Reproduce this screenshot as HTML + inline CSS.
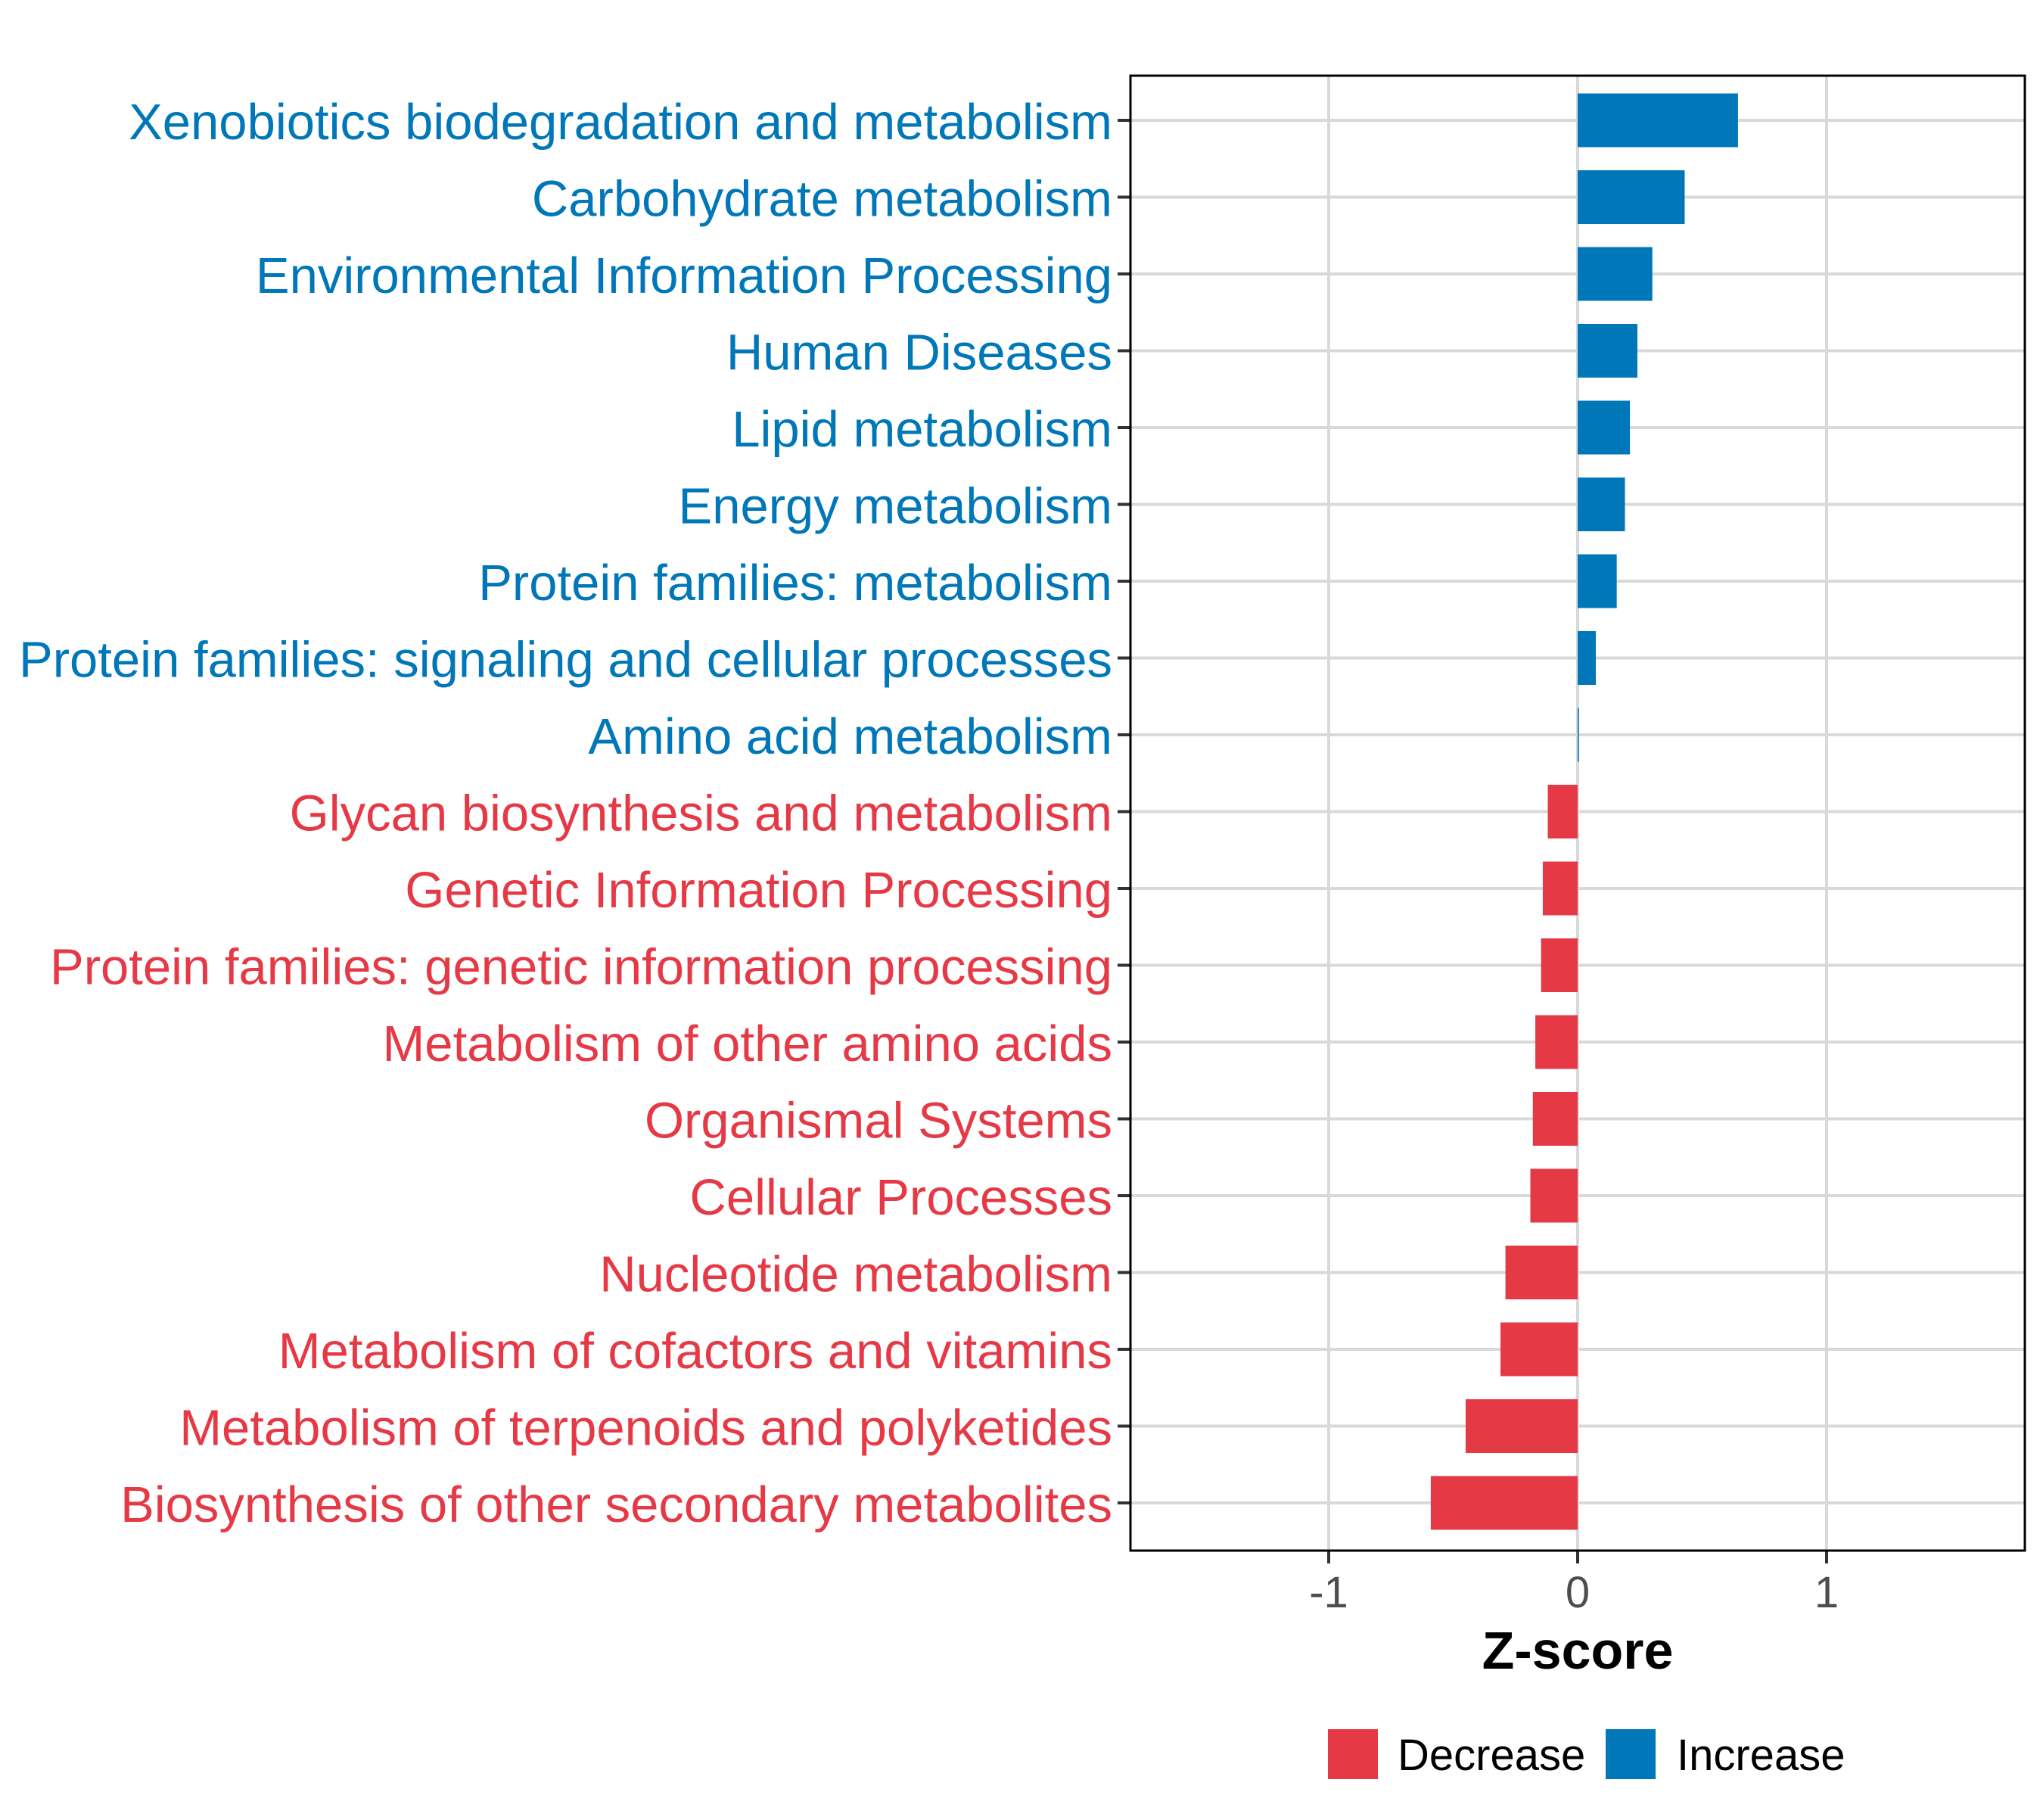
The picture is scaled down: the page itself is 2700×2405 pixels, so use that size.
<!DOCTYPE html>
<html><head><meta charset="utf-8"><style>
html,body{margin:0;padding:0;background:#fff;}
svg text{font-family:"Liberation Sans",Arial,sans-serif;}
</style></head><body>
<svg id="chart" width="2700" height="2400" viewBox="0 0 2700 2400" xmlns="http://www.w3.org/2000/svg">
<rect x="0" y="0" width="2700" height="2400" fill="#fff"/>
<g id="grid"></g>
<g id="bars"></g>
<g id="labels"></g>
<g id="xaxis"></g>
<rect x="1494" y="100" width="1182" height="1949" fill="none" stroke="#000" stroke-width="3"/>
<text x="2085" y="2205" font-size="70" font-weight="bold" text-anchor="middle" fill="#000">Z-score</text>
<g>
<rect x="1755" y="2285" width="66" height="66" fill="#E63946"/>
<text x="1847" y="2339" font-size="58" fill="#000">Decrease</text>
<rect x="2122" y="2285" width="66" height="66" fill="#0077B8"/>
<text x="2216" y="2339" font-size="58" fill="#000">Increase</text>
</g>
</svg>
<script>
const categories = ["Xenobiotics biodegradation and metabolism","Carbohydrate metabolism","Environmental Information Processing","Human Diseases","Lipid metabolism","Energy metabolism","Protein families: metabolism","Protein families: signaling and cellular processes","Amino acid metabolism","Glycan biosynthesis and metabolism","Genetic Information Processing","Protein families: genetic information processing","Metabolism of other amino acids","Organismal Systems","Cellular Processes","Nucleotide metabolism","Metabolism of cofactors and vitamins","Metabolism of terpenoids and polyketides","Biosynthesis of other secondary metabolites"];
const zscores = [0.644,0.43,0.30,0.24,0.21,0.19,0.157,0.073,0.005,-0.12,-0.14,-0.147,-0.17,-0.18,-0.19,-0.29,-0.31,-0.45,-0.59];
const xTicks = [-1,0,1];
const xTickLabels = ["-1","0","1"];
const NS="http://www.w3.org/2000/svg";
const panelL=1494, panelR=2676, panelB=2049;
function xs(v){return 2085+v*329;}
const rowTop=159, rowStep=101.5;
function ys(i){return rowTop+i*rowStep;}
const barH=71;
function mk(tag,attrs,parent){const e=document.createElementNS(NS,tag);for(const k in attrs)e.setAttribute(k,attrs[k]);parent.appendChild(e);return e;}
const grid=document.getElementById('grid'),bars=document.getElementById('bars'),labels=document.getElementById('labels'),xaxis=document.getElementById('xaxis');
xTicks.forEach((t,i)=>{
  const g=mk('line',{x1:xs(t),x2:xs(t),y1:100,y2:panelB,stroke:'#d9d9d9','stroke-width':4},grid);
  
  
  const tk=mk('line',{x1:xs(t),x2:xs(t),y1:panelB,y2:panelB+17,stroke:'#333','stroke-width':4},xaxis);
  
  
  const tl=mk('text',{x:xs(t),y:2124,'font-size':58,'text-anchor':'middle',fill:'#4d4d4d'},xaxis);
  tl.textContent=xTickLabels[i];
  
  
});
categories.forEach((c,i)=>{
  const y=ys(i), v=zscores[i];
  const col=v>=0?'#0077B8':'#E63946';
  const gl=mk('line',{x1:panelL,x2:panelR,y1:y,y2:y,stroke:'#d9d9d9','stroke-width':4},grid);
  
  
  const x0=Math.min(xs(0),xs(v)), w=Math.max(Math.abs(xs(v)-xs(0)),1.5);
  const b=mk('rect',{x:x0,y:y-barH/2,width:w,height:barH,fill:col},bars);
  
  
  const tk=mk('line',{x1:panelL-17,x2:panelL,y1:y,y2:y,stroke:'#333','stroke-width':4},labels);
  
  
  const t=mk('text',{x:1470,y:y+25,'font-size':67,'text-anchor':'end',fill:col},labels);
  t.textContent=c;
  
  
});
</script>
</body></html>
